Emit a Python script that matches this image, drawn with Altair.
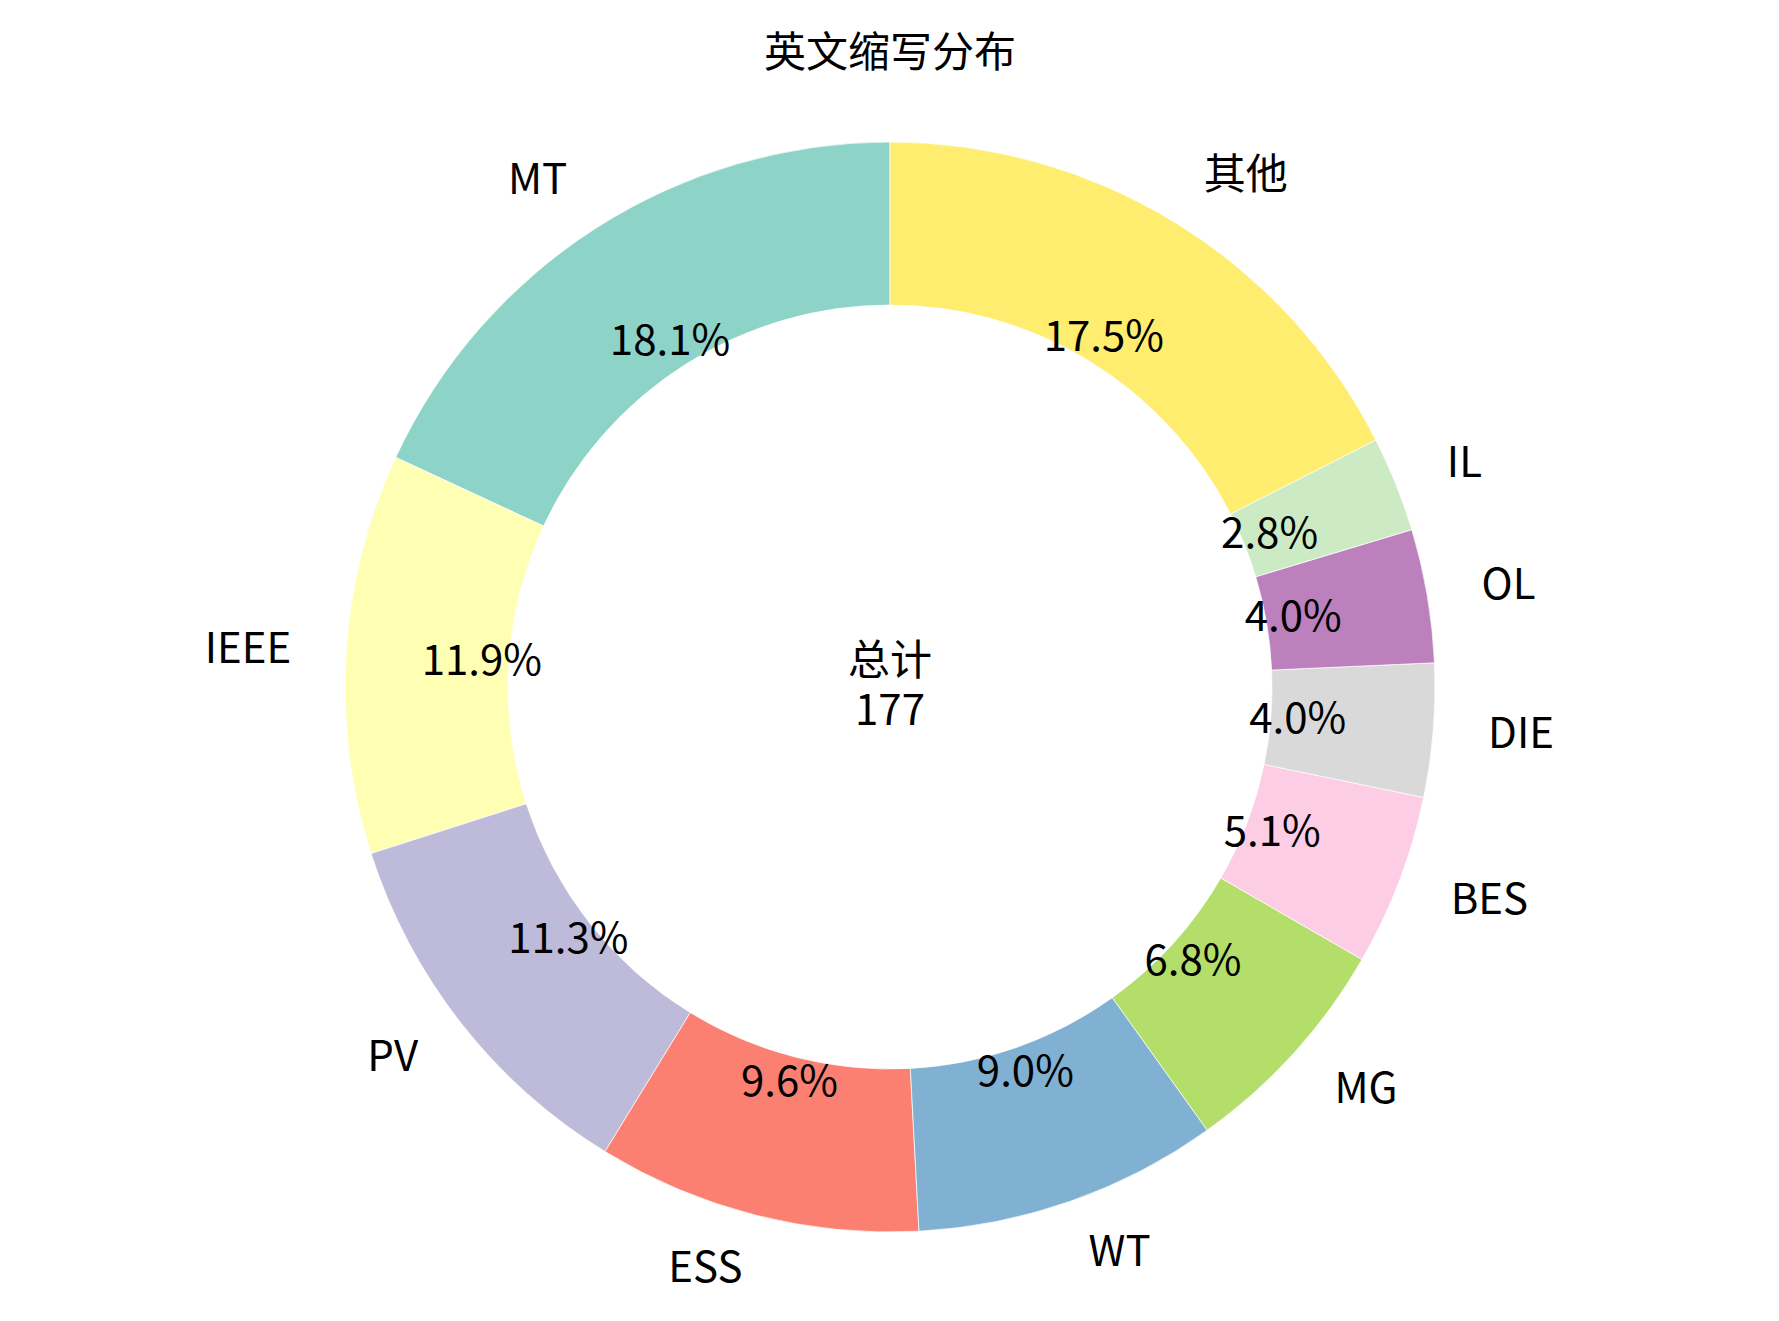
import altair as alt
import pandas as pd

title_text = "英文缩写分布"
center_label = "总计"
labels = ["MT", "IEEE", "PV", "ESS", "WT", "MG", "BES", "DIE", "OL", "IL", "其他"]
counts = [32, 21, 20, 17, 16, 12, 9, 7, 7, 5, 31]
colors = ["#8dd3c7", "#ffffb3", "#bebada", "#fb8072", "#80b1d3", "#b3de69",
          "#fccde5", "#d9d9d9", "#bc80bd", "#ccebc5", "#ffed6f"]

FONT = "Noto Sans CJK SC"
FS = 42
CX, CY = 882, 679
R_OUT, R_IN = 545, 382
R_PCT, R_LAB = 409, 600

n = len(labels)
df = pd.DataFrame({
    "label": labels,
    "count": counts,
    # clockwise drawing order in Vega = reversed matplotlib counter-clockwise order
    "ord": [n - 1 - i for i in range(n)],
})

base = alt.Chart(df).transform_joinaggregate(
    total="sum(count)"
).transform_window(
    cum="sum(count)", sort=[alt.SortField("ord", order="ascending")],
    frame=[None, 0]
).transform_calculate(
    pct="format(datum.count / datum.total, '.1%')",
    mid="(datum.cum - datum.count / 2) / datum.total",
    lab_r="datum.mid < 0.5 ? datum.label : ''",
    lab_l="datum.mid >= 0.5 ? datum.label : ''",
).encode(
    theta=alt.Theta("count:Q", stack=True),
    order=alt.Order("ord:Q", sort="ascending"),
    color=alt.Color("label:N", scale=alt.Scale(domain=labels, range=colors), legend=None),
)

arcs = base.mark_arc(innerRadius=R_IN, outerRadius=R_OUT, stroke="white",
                     strokeWidth=0.7, x=CX, y=CY)

pct_text = base.mark_text(radius=R_PCT, font=FONT, fontSize=FS, color="black",
                          align="center", baseline="middle", x=CX, y=CY).encode(
    text="pct:N", color=alt.value("black"))

lab_right = base.mark_text(radius=R_LAB, font=FONT, fontSize=FS, color="black",
                           align="left", baseline="middle", x=CX, y=CY).encode(
    text="lab_r:N", color=alt.value("black"))

lab_left = base.mark_text(radius=R_LAB, font=FONT, fontSize=FS, color="black",
                          align="right", baseline="middle", x=CX, y=CY).encode(
    text="lab_l:N", color=alt.value("black"))

center = alt.Chart(df).transform_aggregate(total="sum(count)").transform_calculate(
    ctext=f"'{center_label}' + '\\n' + datum.total"
).mark_text(
    font=FONT, fontSize=FS, color="black", align="center", baseline="middle",
    lineBreak="\n", lineHeight=50
).encode(text="ctext:N", x=alt.value(CX), y=alt.value(CY - 25))

title = alt.Chart(pd.DataFrame({"t": [title_text]})).mark_text(
    font=FONT, fontSize=FS, color="black", align="center", baseline="middle"
).encode(text="t:N", x=alt.value(CX), y=alt.value(46))

chart = alt.layer(arcs, pct_text, lab_right, lab_left, center, title).properties(
    width=1763, height=1305, autosize=alt.AutoSizeParams(type="none"), padding=0,
    background="white"
).configure_view(stroke=None)

chart.save("out.html", embed_options={"renderer": "svg", "actions": False})
